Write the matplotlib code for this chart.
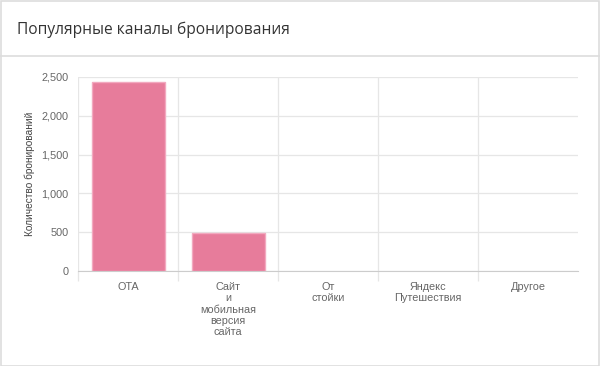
import numpy as np
import matplotlib
matplotlib.use('Agg')
import matplotlib.pyplot as plt
from matplotlib.patches import Rectangle
from matplotlib.lines import Line2D
from matplotlib.ticker import FuncFormatter, FixedLocator

# data
categories = ['OTA', 'Сайт\nи\nмобильная\nверсия\nсайта', 'От\nстойки', 'Яндекс\nПутешествия', 'Другое']
bookings = [2440, 495, 0, 0, 0]
y_ticks = [0, 500, 1000, 1500, 2000, 2500]

title = 'Популярные каналы бронирования'
y_label = 'Количество бронирований'

W, H = 600, 366
fig = plt.figure(figsize=(6.0, 3.66), dpi=100)
fig.patch.set_facecolor('white')

# card border and header separator
fig.patches.append(Rectangle((0.5 / W, 0.5 / H), (W - 1.5) / W, (H - 1.5) / H,
                             transform=fig.transFigure, fill=False,
                             edgecolor='#dddddd', linewidth=1.2))
fig.lines.append(Line2D([0, 1], [1 - 55.5 / H, 1 - 55.5 / H], transform=fig.transFigure,
                        color='#dddddd', linewidth=1.2))
fig.text(17 / W, 1 - 30 / H, title, fontsize=11.2, color='#333333',
         family='Open Sans', va='center', ha='left')

ax = fig.add_axes([78 / W, 1 - 271 / H, 500 / W, 194 / H])
x = np.arange(len(categories))
# no outline for empty bars
edge_w = [1 if v > 0 else 0 for v in bookings]
ax.bar(x, bookings, width=0.73, color='#e77c9b', edgecolor='#f2a9bf', linewidth=edge_w, zorder=3)

ax.set_xlim(-0.5, len(categories) - 0.5)
ax.set_ylim(0, 2500)
ax.set_yticks(y_ticks)
ax.yaxis.set_major_formatter(FuncFormatter(lambda v, p: '{:,}'.format(int(v))))
ax.set_xticks(x)
ax.set_xticklabels(categories, fontsize=7.8, color='#666666', family='Liberation Sans',
                   linespacing=1.15, va='top')
ax.xaxis.set_minor_locator(FixedLocator(np.arange(-0.5, len(categories) - 0.5, 1.0)))

for s in ['top', 'right', 'left']:
    ax.spines[s].set_visible(False)
ax.spines['bottom'].set_color('#cccccc')

ax.grid(axis='y', color='#e6e6e6', linewidth=0.9, zorder=0)
ax.grid(axis='x', which='minor', color='#e6e6e6', linewidth=0.9, zorder=0)
ax.tick_params(axis='y', length=0, pad=7, labelsize=7.8, labelcolor='#666666')
ax.tick_params(axis='x', which='major', length=0, pad=8)
ax.tick_params(axis='x', which='minor', length=7, color='#e6e6e6', width=0.9)
for lb in ax.get_yticklabels():
    lb.set_family('Liberation Sans')

ax.set_ylabel(y_label, fontsize=7.3, color='#444444', family='Liberation Sans')
ax.yaxis.set_label_coords(-0.086, 0.5)

fig.savefig('out.png', dpi=100, facecolor='white')
